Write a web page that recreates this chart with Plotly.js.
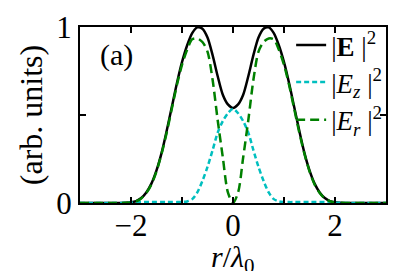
<!DOCTYPE html>
<html>
<head>
<meta charset="utf-8">
<script src="https://cdn.plot.ly/plotly-3.0.1.min.js"></script>
<style>
  html, body { margin: 0; padding: 0; background: #fff; }
  #chart { width: 399px; height: 271px; }
</style>
</head>
<body>
<div id="chart"></div>
<script>
// r / lambda_0 sample positions
const r = [
  -3.0, -2.9, -2.8, -2.7, -2.6, -2.5, -2.4, -2.3, -2.2, -2.1,
  -2.0, -1.9, -1.8, -1.7, -1.6, -1.5, -1.4, -1.3, -1.2, -1.1,
  -1.0, -0.9, -0.8, -0.7, -0.6, -0.5, -0.4, -0.3, -0.2, -0.1,
   0.0,
   0.1,  0.2,  0.3,  0.4,  0.5,  0.6,  0.7,  0.8,  0.9,  1.0,
   1.1,  1.2,  1.3,  1.4,  1.5,  1.6,  1.7,  1.8,  1.9,  2.0,
   2.1,  2.2,  2.3,  2.4,  2.5,  2.6,  2.7,  2.8,  2.9,  3.0
];

// |E|^2 (total)
const Etot = [
  0, 0, 0, 0, 0, 0, 0, 0, 0.0005, 0.0015,
  0.004, 0.011, 0.028, 0.06, 0.11, 0.185, 0.285, 0.41, 0.545, 0.68,
  0.80, 0.895, 0.965, 0.998, 0.99, 0.94, 0.84, 0.72, 0.615, 0.56,
  0.54,
  0.56, 0.615, 0.72, 0.84, 0.94, 0.99, 0.998, 0.965, 0.895, 0.80,
  0.68, 0.545, 0.41, 0.285, 0.185, 0.11, 0.06, 0.028, 0.011, 0.004,
  0.0015, 0.0005, 0, 0, 0, 0, 0, 0, 0, 0
];

// |E_z|^2
const Ez = [
  0, 0, 0, 0, 0, 0, 0, 0, 0, 0.001,
  0.002, 0.004, 0.005, 0.005, 0.005, 0.005, 0.005, 0.005, 0.005, 0.005,
  0.006, 0.009, 0.022, 0.06, 0.125, 0.205, 0.30, 0.40, 0.465, 0.51,
  0.535,
  0.51, 0.465, 0.40, 0.30, 0.205, 0.125, 0.06, 0.022, 0.009, 0.006,
  0.005, 0.005, 0.005, 0.005, 0.005, 0.005, 0.005, 0.005, 0.004, 0.002,
  0.001, 0, 0, 0, 0, 0, 0, 0, 0, 0
];

// |E_r|^2
const Er = [
  0, 0, 0, 0, 0, 0, 0, 0, 0, 0.001,
  0.003, 0.01, 0.026, 0.057, 0.105, 0.18, 0.28, 0.40, 0.535, 0.67,
  0.785, 0.87, 0.93, 0.935, 0.915, 0.86, 0.70, 0.47, 0.26, 0.06,
  0,
  0.06, 0.26, 0.47, 0.70, 0.86, 0.915, 0.935, 0.93, 0.87, 0.785,
  0.67, 0.535, 0.40, 0.28, 0.18, 0.105, 0.057, 0.026, 0.01, 0.003,
  0.001, 0, 0, 0, 0, 0, 0, 0, 0, 0
];

const xTickVals = [-2, -1, 0, 1, 2];
const xTickText = ['\u22122', '', '0', '', '2'];
const yTickVals = [0, 0.5, 1];
const yTickText = ['0', '', '1'];

const FONT = '"Liberation Serif", "Times New Roman", serif';

const traces = [
  {
    x: r, y: Etot, type: 'scatter', mode: 'lines', legend: 'legend',
    name: '|<b>E</b> |<sup>2</sup>',
    line: { color: '#000000', width: 2.5, shape: 'spline', smoothing: 0.8 }
  },
  {
    x: r, y: Ez, type: 'scatter', mode: 'lines', legend: 'legend2',
    name: '|<i>E<sub>z</sub></i> |<sup>2</sup>',
    line: { color: '#00BFBF', width: 2.5, dash: '5px,3px', shape: 'spline', smoothing: 0.8 }
  },
  {
    x: r, y: Er, type: 'scatter', mode: 'lines', legend: 'legend3',
    name: '|<i>E<sub>r</sub></i> |<sup>2</sup>',
    line: { color: '#008000', width: 2.5, dash: '9px,5px', shape: 'spline', smoothing: 0.8 }
  }
];

const axisCommon = {
  showline: true, linecolor: '#000', linewidth: 2, mirror: 'ticks',
  ticks: 'inside', ticklen: 6, tickwidth: 1.2, tickcolor: '#000',
  showgrid: false, zeroline: false, tickmode: 'array',
  tickfont: { family: FONT, size: 31, color: '#000' }
};

function legendAt(yv) {
  return {
    x: 0.69, y: yv, xanchor: 'left', yanchor: 'middle',
    bgcolor: 'rgba(0,0,0,0)', borderwidth: 0,
    font: { family: FONT, size: 27, color: '#000' },
    itemwidth: 30
  };
}

const layout = {
  width: 399, height: 271,
  margin: { l: 80, r: 13, t: 27, b: 68, pad: 0 },
  paper_bgcolor: '#fff', plot_bgcolor: '#fff',
  font: { family: FONT, color: '#000' },
  showlegend: true,
  legend: legendAt(0.895),
  legend2: legendAt(0.685),
  legend3: legendAt(0.47),
  xaxis: Object.assign({}, axisCommon, {
    range: [-3, 3], tickvals: xTickVals, ticktext: xTickText,
    ticklabelstandoff: -6
  }),
  yaxis: Object.assign({}, axisCommon, {
    range: [0, 1], tickvals: yTickVals, ticktext: yTickText,
    title: { text: '(arb. units)', font: { family: FONT, size: 32, color: '#000' }, standoff: 4 }
  }),
  annotations: [
    {
      text: '(a)', xref: 'paper', yref: 'paper', x: 0.12, y: 0.84,
      xanchor: 'center', yanchor: 'middle', showarrow: false,
      font: { family: FONT, size: 30, color: '#000' }
    },
    {
      text: '<i>r</i>/<i>λ</i><sub>0</sub>', xref: 'paper', yref: 'paper',
      x: 0.5, y: -0.32, xanchor: 'center', yanchor: 'middle', showarrow: false,
      font: { family: FONT, size: 30, color: '#000' }
    }
  ]
};

Plotly.newPlot('chart', traces, layout, { displayModeBar: false, staticPlot: true });
</script>
</body>
</html>
